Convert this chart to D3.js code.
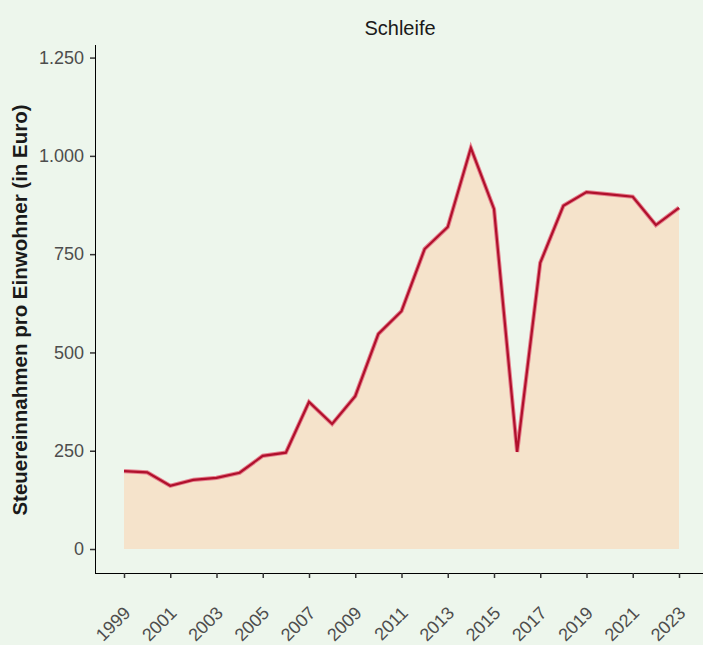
<!DOCTYPE html>
<html><head><meta charset="utf-8">
<script src="https://cdn.jsdelivr.net/npm/d3@7"></script>
<style>
html,body{margin:0;padding:0;background:#edf6ec;}
svg{display:block;font-family:"Liberation Sans",Arial,sans-serif;}
</style></head>
<body><svg id="c" width="703" height="645"></svg>
<script>
const years = [1999,2000,2001,2002,2003,2004,2005,2006,2007,2008,2009,2010,2011,2012,2013,2014,2015,2016,2017,2018,2019,2020,2021,2022,2023];
const values = [198,195,161,176,181,194,237,245,374,318,389,547,605,763,819,1020,865,247,728,873,908,902,896,824,868];
const yTicks = [0,250,500,750,1000,1250];
const xTicks = [1999,2001,2003,2005,2007,2009,2011,2013,2015,2017,2019,2021,2023];
const title = "Schleife";
const yLabel = "Steuereinnahmen pro Einwohner (in Euro)";

const svg = d3.select("#c");
svg.append("rect").attr("width",703).attr("height",645).attr("fill","#edf6ec");

const x = d3.scaleLinear().domain([1997.8,2024.2]).range([96.25,706.75]);
const y = d3.scaleLinear().domain([-61,1282]).range([573,45]);
const loc = d3.formatLocale({decimal:",",thousands:".",grouping:[3],currency:["","€"]});
const fmt = loc.format(",d");

const data = years.map((yr,i)=>({yr, v:values[i]}));

svg.append("path").datum(data)
  .attr("fill","#f5e3cb")
  .attr("d", d3.area().x(d=>x(d.yr)).y0(y(0)).y1(d=>y(d.v)));

svg.append("path").datum(data)
  .attr("fill","none").attr("stroke","#e6808e").attr("stroke-width",4.2)
  .attr("d", d3.line().x(d=>x(d.yr)).y(d=>y(d.v)));
svg.append("path").datum(data)
  .attr("fill","none").attr("stroke","#b0102c").attr("stroke-width",2.2)
  .attr("d", d3.line().x(d=>x(d.yr)).y(d=>y(d.v)));

// y axis
const ya = svg.append("g").attr("transform","translate(95,0)")
  .call(d3.axisLeft(y).tickValues(yTicks).tickFormat(fmt).tickSize(5).tickPadding(6));
ya.select(".domain").attr("stroke","#000").attr("stroke-width",1).attr("d","M0.5,45V573.5");
ya.selectAll(".tick line").attr("stroke","#333").attr("stroke-width",1.5);
ya.selectAll(".tick text").attr("fill","#4d4d4d").attr("font-size",18).attr("font-family","Liberation Sans, Arial, sans-serif");

// x axis
const xa = svg.append("g").attr("transform","translate(0,573)")
  .call(d3.axisBottom(x).tickValues(xTicks).tickFormat(d3.format("d")).tickSize(5));
xa.select(".domain").attr("stroke","#000").attr("stroke-width",1).attr("d","M95,0.5H703");
xa.selectAll(".tick line").attr("stroke","#333").attr("stroke-width",1.5);
xa.selectAll(".tick text")
  .attr("fill","#4d4d4d").attr("font-size",18).attr("font-family","Liberation Sans, Arial, sans-serif")
  .attr("text-anchor","end").attr("dy",null).attr("y",null)
  .attr("transform","translate(-2,32) rotate(-45)")
  .attr("dominant-baseline","hanging");

// title
svg.append("text").attr("x",400).attr("y",35).attr("text-anchor","middle")
  .attr("font-size",20).attr("fill","#1a1a1a").text(title);

// y label
svg.append("text").attr("transform","translate(27,310) rotate(-90)")
  .attr("text-anchor","middle").attr("font-size",20.5).attr("font-weight","bold")
  .attr("fill","#1a1a1a").text(yLabel);
</script></body></html>
